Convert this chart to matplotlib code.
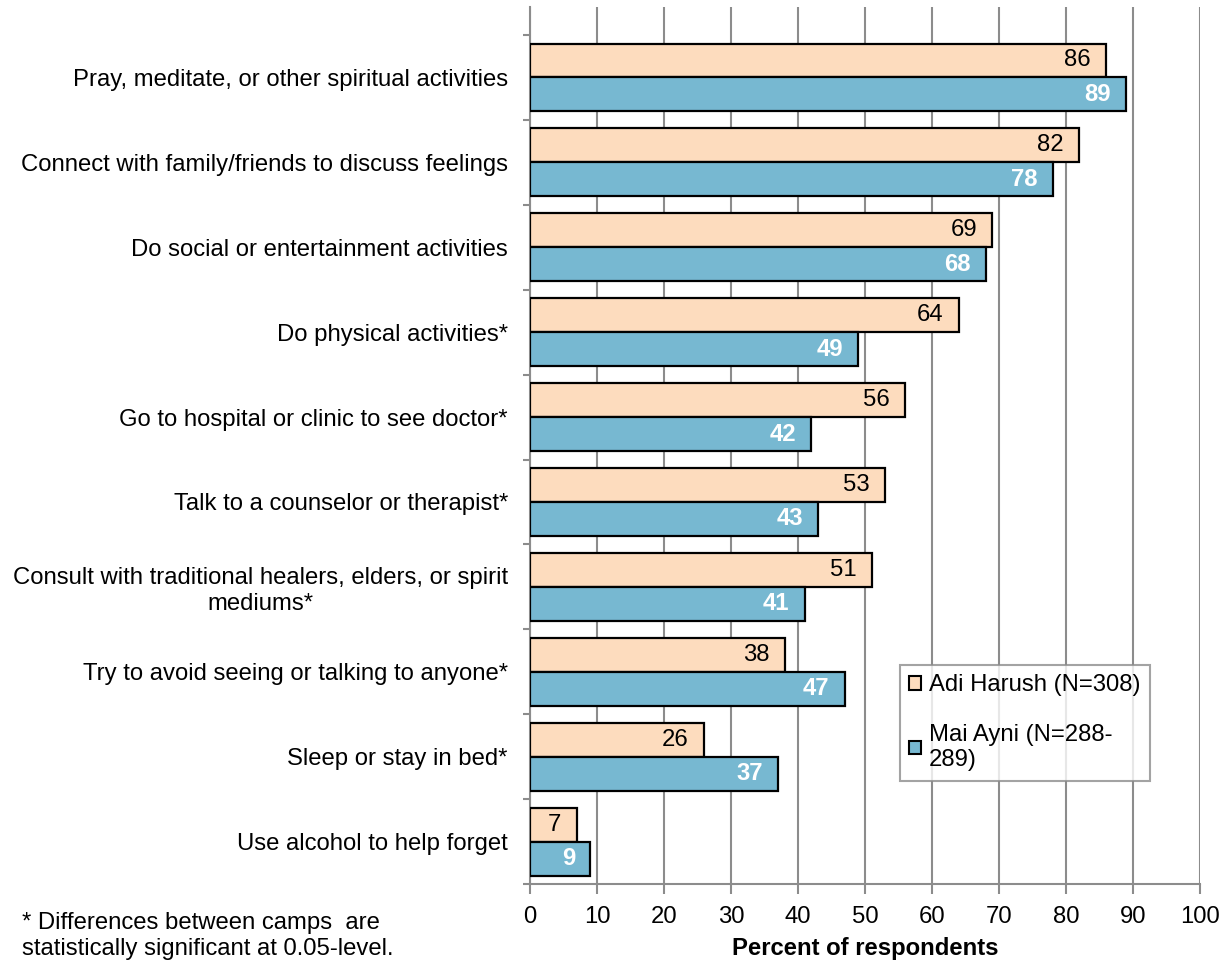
import numpy as np
import matplotlib
matplotlib.use("Agg")
import matplotlib.pyplot as plt
from matplotlib.patches import Patch

plt.rcParams['font.family'] = ['Liberation Sans', 'DejaVu Sans']

categories = [
    "Pray, meditate, or other spiritual activities",
    "Connect with family/friends to discuss feelings",
    "Do social or entertainment activities",
    "Do physical activities*",
    "Go to hospital or clinic to see doctor*",
    "Talk to a counselor or therapist*",
    "Consult with traditional healers, elders, or spirit\nmediums*",
    "Try to avoid seeing or talking to anyone*",
    "Sleep or stay in bed*",
    "Use alcohol to help forget",
]
adi_harush = [86, 82, 69, 64, 56, 53, 51, 38, 26, 7]
mai_ayni = [89, 78, 68, 49, 42, 43, 41, 47, 37, 9]
series_names = ["Adi Harush (N=308)", "Mai Ayni (N=288-\n289)"]
x_ticks = list(range(0, 101, 10))

c_adi = "#FDDCBE"
c_mai = "#77B8D1"
grid_c = "#8C8C8C"
fs = 17.2

fig = plt.figure(figsize=(12.28, 9.66), dpi=100)
ax = fig.add_axes([530 / 1228, 1 - 884 / 966, 670 / 1228, 877 / 966])

pos = np.arange(len(categories))
h = 0.4
ax.barh(pos - h / 2, adi_harush, height=h, color=c_adi, edgecolor="black",
        linewidth=1.6, zorder=3)
ax.barh(pos + h / 2, mai_ayni, height=h, color=c_mai, edgecolor="black",
        linewidth=1.6, zorder=3)

for p, v in zip(pos, adi_harush):
    ax.annotate(str(v), (v, p - h / 2), xytext=(-11, 0), textcoords="offset points",
                ha="right", va="center", fontsize=fs, color="black", zorder=4)
for p, v in zip(pos, mai_ayni):
    ax.annotate(str(v), (v, p + h / 2), xytext=(-11, 0), textcoords="offset points",
                ha="right", va="center", fontsize=fs, color="white",
                fontweight="bold", zorder=4)

ax.set_xlim(0, 100)
ax.set_ylim(len(categories) - 0.5, -0.83)
ax.set_xticks(x_ticks)
ax.set_xticklabels([str(t) for t in x_ticks], fontsize=fs)
ax.set_yticks(pos)
ax.set_yticklabels(categories, fontsize=fs)
for lab in ax.get_yticklabels():
    lab.set_multialignment("center")
    lab.set_linespacing(1.2)
ax.set_yticks(np.arange(len(categories) + 1) - 0.5, minor=True)

ax.tick_params(axis="y", which="major", length=0, pad=16)
ax.tick_params(axis="y", which="minor", length=5, width=1.5, color=grid_c)
ax.tick_params(axis="x", length=7, width=1.5, color=grid_c, pad=9)

ax.xaxis.grid(True, color=grid_c, linewidth=1.5, zorder=0)
ax.set_axisbelow(True)
for s in ["top", "right"]:
    ax.spines[s].set_visible(False)
for s in ["left", "bottom"]:
    ax.spines[s].set_color(grid_c)
    ax.spines[s].set_linewidth(1.5)

ax.set_xlabel("Percent of respondents", fontsize=fs, fontweight="bold", labelpad=6)

handles = [Patch(facecolor=c_adi, edgecolor="black", linewidth=1.5),
           Patch(facecolor=c_mai, edgecolor="black", linewidth=1.5)]
leg = ax.legend(handles, series_names, loc="upper left",
                bbox_to_anchor=(0.552, 0.25), borderaxespad=0, fontsize=fs,
                fancybox=False, frameon=True, handlelength=0.5, handleheight=0.5,
                handletextpad=0.3, labelspacing=1.15, borderpad=0.4)
leg.get_frame().set_edgecolor(grid_c)
leg.get_frame().set_linewidth(1.5)
for t in leg.get_texts():
    t.set_linespacing(1.2)

fig.text(22 / 1228, 1 - 912 / 966,
         "* Differences between camps  are\nstatistically significant at 0.05-level.",
         fontsize=fs, va="top", ha="left", linespacing=1.25)

fig.savefig("out.png", dpi=100)
